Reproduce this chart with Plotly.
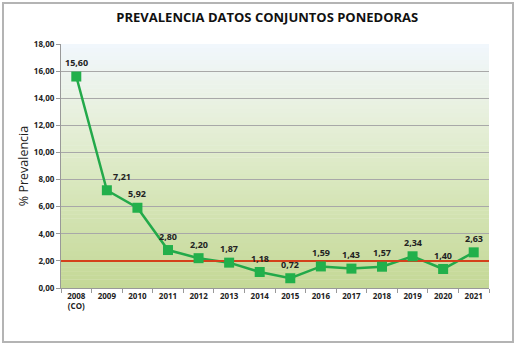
import plotly.graph_objects as go

years = ["2008<br>(CO)", "2009", "2010", "2011", "2012", "2013", "2014", "2015",
         "2016", "2017", "2018", "2019", "2020", "2021"]
prevalence = [15.60, 7.21, 5.92, 2.80, 2.20, 1.87, 1.18, 0.72, 1.59, 1.43, 1.57, 2.34, 1.40, 2.63]
threshold = 2.0
y_ticks = [0, 2, 4, 6, 8, 10, 12, 14, 16, 18]
label_xshift = [0, 15, 0, 0, 0, 0, 0, 0, 0, 0, 0, 0, 0, 0]

def fmt(v):
    return f"{v:.2f}".replace(".", ",")

xpos = list(range(len(years)))
xrange_ = [-0.5, len(years) - 0.5]

fig = go.Figure()

# gradient background bands (styling only)
stops = [(0.0, (196, 216, 150)), (0.45, (218, 232, 192)), (0.72, (232, 240, 222)), (1.0, (241, 247, 253))]
def col(t):
    for (a, ca), (b, cb) in zip(stops[:-1], stops[1:]):
        if a <= t <= b:
            f = (t - a) / (b - a)
            return "rgb(%d,%d,%d)" % tuple(round(ca[i] + (cb[i] - ca[i]) * f) for i in range(3))
    return "rgb(%d,%d,%d)" % stops[-1][1]

n = 60
shapes = []
for i in range(n):
    t0, t1 = i / n, (i + 1) / n
    shapes.append(dict(type="rect", xref="x domain", yref="y domain",
                       x0=0, x1=1, y0=t0, y1=min(1, t1 + 0.002),
                       fillcolor=col((t0 + t1) / 2), line=dict(width=0), layer="below"))
shapes.append(dict(type="rect", xref="paper", yref="paper", x0=-58 / 428, x1=1 + 24 / 428,
                   y0=-54 / 244, y1=1 + 41 / 244,
                   line=dict(color="#b4b4b4", width=2), layer="above"))

fig.add_trace(go.Scatter(
    x=xpos, y=prevalence, mode="lines",
    line=dict(color="#23a94a", width=2.5),
    showlegend=False, cliponaxis=False))

fig.add_trace(go.Scatter(
    x=xrange_, y=[threshold, threshold], mode="lines",
    line=dict(color="#d4411b", width=2), showlegend=False))

fig.add_trace(go.Scatter(
    x=xpos, y=prevalence, mode="markers",
    marker=dict(symbol="square", size=10, color="#22b04b"),
    showlegend=False, cliponaxis=False))

annotations = []
for xv, yv, xs in zip(xpos, prevalence, label_xshift):
    annotations.append(dict(x=xv, y=yv, xref="x", yref="y", text="<b>" + fmt(yv) + "</b>", showarrow=False,
                            yshift=14, xshift=xs, font=dict(size=9, color="#222222", family="Open Sans")))

fig.update_layout(
    width=517, height=346,
    margin=dict(l=61, r=28, t=44, b=58),
    paper_bgcolor="white", plot_bgcolor="rgba(0,0,0,0)",
    title=dict(text="<b>PREVALENCIA DATOS CONJUNTOS PONEDORAS</b>", x=0.517, xanchor="center",
               y=0.95, yanchor="middle", font=dict(size=13, color="#111111", family="Open Sans")),
    annotations=annotations, shapes=shapes,
    font=dict(family="Open Sans", color="#222222"),
)
fig.update_xaxes(
    range=xrange_, tickvals=xpos, ticktext=["<b>" + y + "</b>" for y in years], tickangle=0,
    showgrid=False, showline=True, linecolor="#999999", linewidth=1, zeroline=False,
    ticks="", tickfont=dict(size=8, family="Open Sans", color="#222222"),
    minor=dict(tickvals=[i - 0.5 for i in range(len(years) + 1)], ticks="outside", ticklen=4,
               tickcolor="#999999", showgrid=False),
)
fig.update_yaxes(
    range=[0, 18], tickvals=y_ticks, ticktext=["<b>" + fmt(v) + "</b>" for v in y_ticks],
    showgrid=True, gridcolor="#a8a8a8", gridwidth=1,
    showline=True, linecolor="#999999", linewidth=1, ticks="outside", ticklen=4, tickcolor="#999999",
    tickfont=dict(size=8, family="Open Sans", color="#222222"), zeroline=False,
    title=dict(text="% Prevalencia", font=dict(size=12.5, family="Open Sans", color="#222222"), standoff=2),
)

fig.write_html("out.html")
